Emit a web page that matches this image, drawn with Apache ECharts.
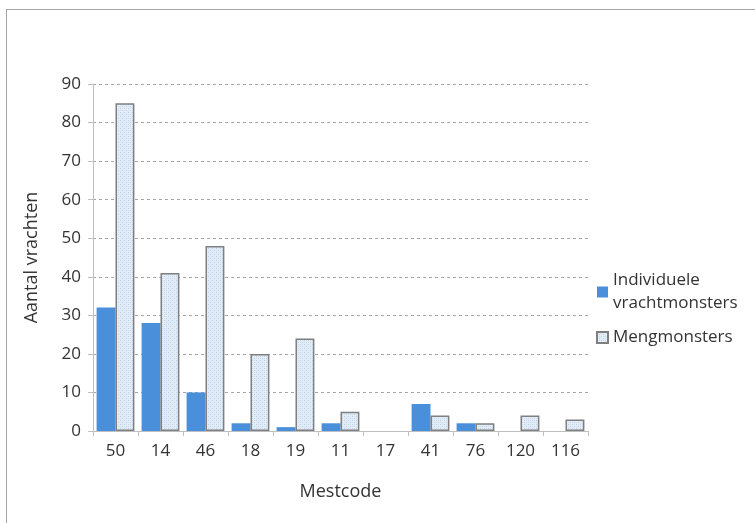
<!DOCTYPE html>
<html>
<head>
<meta charset="utf-8">
<script src="https://cdn.jsdelivr.net/npm/echarts@6/dist/echarts.min.js"></script>
<style>
  html, body { margin: 0; padding: 0; background: #ffffff; }
  #frame { position: absolute; left: 6px; top: 9px; right: -2px; bottom: -2px;
           border: 1px solid #a6a6a6; box-sizing: border-box; }
  #chart { position: absolute; left: 0; top: 0; width: 755px; height: 523px; }
</style>
</head>
<body>
<div id="frame"></div>
<div id="chart"></div>
<script>
// Mestcode categories and counts per sample type
const categories = ['50', '14', '46', '18', '19', '11', '17', '41', '76', '120', '116'];
const individueleValues = [32, 28, 10, 2, 1, 2, 0, 7, 2, 0, 0];
const mengmonstersValues = [85, 41, 48, 20, 24, 5, 0, 4, 2, 4, 3];
const seriesNames = ['Individuele\nvrachtmonsters', 'Mengmonsters'];

// Fine dotted fill for the mixed-sample bars
function makeDotPattern() {
  const c = document.createElement('canvas');
  c.width = 4; c.height = 4;
  const ctx = c.getContext('2d');
  ctx.fillStyle = '#e2edf8';
  ctx.fillRect(0, 0, 4, 4);
  ctx.fillStyle = '#bcd2e8';
  ctx.fillRect(0, 0, 1, 1);
  ctx.fillRect(2, 2, 1, 1);
  ctx.fillStyle = '#cfdfef';
  ctx.fillRect(2, 0, 1, 1);
  ctx.fillRect(0, 2, 1, 1);
  return c;
}
const dotPattern = { image: makeDotPattern(), repeat: 'repeat' };

// Zero counts get no outline so empty bars stay invisible
function toBarData(values) {
  return values.map(v => v === 0 ? { value: v, itemStyle: { borderWidth: 0 } } : v);
}

const textColor = '#333333';
const fontFamily = 'Open Sans';
const chart = echarts.init(document.getElementById('chart'), null, { renderer: 'canvas' });

chart.setOption({
  animation: false,
  backgroundColor: 'transparent',
  grid: { left: 93, right: 167, top: 84, bottom: 92 },
  legend: {
    orient: 'vertical',
    left: 591,
    top: 264,
    itemWidth: 11,
    itemHeight: 11,
    itemGap: 11,
    icon: 'rect',
    textStyle: { color: textColor, fontSize: 17, fontFamily: fontFamily, lineHeight: 23 },
    data: seriesNames
  },
  xAxis: {
    type: 'category',
    data: categories,
    name: 'Mestcode',
    nameLocation: 'middle',
    nameGap: 52,
    nameTextStyle: { color: textColor, fontSize: 18, fontFamily: fontFamily },
    axisLine: { lineStyle: { color: '#bfbfbf', width: 1 } },
    axisTick: { show: true, length: 5, lineStyle: { color: '#bfbfbf' } },
    axisLabel: { color: textColor, fontSize: 17, fontFamily: fontFamily, margin: 12 }
  },
  yAxis: {
    type: 'value',
    min: 0,
    max: 90,
    interval: 10,
    name: 'Aantal vrachten',
    nameLocation: 'middle',
    nameGap: 52,
    nameTextStyle: { color: textColor, fontSize: 18, fontFamily: fontFamily },
    axisLine: { show: true, lineStyle: { color: '#bfbfbf', width: 1 } },
    axisTick: { show: true, length: 5, inside: false, lineStyle: { color: '#bfbfbf' } },
    axisLabel: { color: textColor, fontSize: 17, fontFamily: fontFamily, margin: 12 },
    splitLine: { show: true, lineStyle: { color: '#a6a6a6', type: [3, 3], width: 1 } }
  },
  series: [
    {
      name: seriesNames[0],
      type: 'bar',
      data: toBarData(individueleValues),
      barGap: '0%',
      barCategoryGap: '16%',
      itemStyle: { color: '#4a8fd9' }
    },
    {
      name: seriesNames[1],
      type: 'bar',
      data: toBarData(mengmonstersValues),
      barGap: '0%',
      barCategoryGap: '16%',
      itemStyle: { color: dotPattern, borderColor: '#7f7f7f', borderWidth: 1.5 }
    }
  ]
});
</script>
</body>
</html>
